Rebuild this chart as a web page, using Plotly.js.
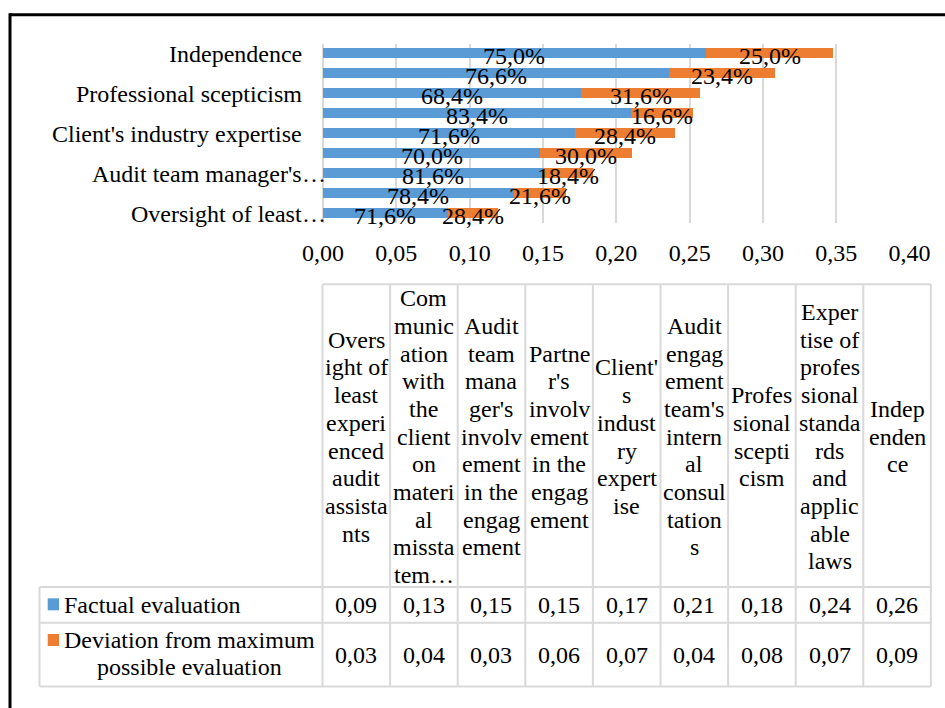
<!DOCTYPE html>
<html>
<head>
<meta charset="utf-8">
<script src="https://cdn.plot.ly/plotly-3.0.1.min.js"></script>
<style>html,body{margin:0;padding:0;background:#fff;}#chart{width:945px;height:708px;}</style>
</head>
<body>
<div id="chart"></div>
<script>
// ---- data (bottom to top of the bar chart = left to right of the table) ----
const categories = [
  "Oversight of least experienced audit assistants",
  "Communication with the client on material misstatements",
  "Audit team manager's involvement in the engagement",
  "Partner's involvement in the engagement",
  "Client's industry expertise",
  "Audit engagement team's internal consultations",
  "Professional scepticism",
  "Expertise of professional standards and applicable laws",
  "Independence"
];
const axisLabels = ["Oversight of least…", "", "Audit team manager's…", "", "Client's industry expertise", "", "Professional scepticism", "", "Independence"];
const factual   = [0.085, 0.130, 0.150, 0.148, 0.172, 0.210, 0.176, 0.236, 0.261];
const deviation = [0.034, 0.036, 0.034, 0.063, 0.068, 0.042, 0.081, 0.072, 0.087];
const factualPct   = ["71,6%", "78,4%", "81,6%", "70,0%", "71,6%", "83,4%", "68,4%", "76,6%", "75,0%"];
const deviationPct = ["28,4%", "21,6%", "18,4%", "30,0%", "28,4%", "16,6%", "31,6%", "23,4%", "25,0%"];
const seriesNames = ["Factual evaluation", "Deviation from maximum possible evaluation"];
const legendLines = [["Factual evaluation"], ["Deviation from maximum", "possible evaluation"]];
const tableHeaders = [
  ["Overs", "ight of", "least", "experi", "enced", "audit", "assista", "nts"],
  ["Com", "munic", "ation", "with", "the", "client", "on", "materi", "al", "missta", "tem…"],
  ["Audit", "team", "mana", "ger's", "involv", "ement", "in the", "engag", "ement"],
  ["Partne", "r's", "involv", "ement", "in the", "engag", "ement"],
  ["Client'", "s", "indust", "ry", "expert", "ise"],
  ["Audit", "engag", "ement", "team's", "intern", "al", "consul", "tation", "s"],
  ["Profes", "sional", "scepti", "cism"],
  ["Exper", "tise of", "profes", "sional", "standa", "rds", "and", "applic", "able", "laws"],
  ["Indep", "enden", "ce"]
];
const xTickVals = [0, 0.05, 0.10, 0.15, 0.20, 0.25, 0.30, 0.35, 0.40];

// ---- styling ----
const W = 945, H = 708;
const FONT = 'Liberation Serif, Times New Roman, Times, serif';
const BLUE = '#5B9BD5', ORANGE = '#ED7D31', GRID = '#D9D9D9';
const px = x => x / W;
const py = y => 1 - y / H;
const fmt = v => (Math.round(v * 100) / 100).toFixed(2).replace('.', ',');

const traces = [
  {type: 'bar', orientation: 'h', name: seriesNames[0], y: categories, x: factual,
   marker: {color: BLUE}, hoverinfo: 'x+y', showlegend: false},
  {type: 'bar', orientation: 'h', name: seriesNames[1], y: categories, x: deviation,
   marker: {color: ORANGE}, hoverinfo: 'x+y', showlegend: false}
];

const annotations = [];
const shapes = [];
const tfont = {family: FONT, size: 24, color: '#000'};

// category axis labels (every second category; a truncation ellipsis hangs past the label edge)
const labelEdge = 304;
categories.forEach((c, i) => {
  const lab = axisLabels[i];
  if (!lab) return;
  const cut = lab.endsWith('…');
  annotations.push({xref: 'paper', yref: 'y', x: px(labelEdge), y: c, text: cut ? lab.slice(0, -1) : lab,
    showarrow: false, xanchor: 'right', yanchor: 'middle', yshift: -1, font: tfont});
  if (cut) annotations.push({xref: 'paper', yref: 'y', x: px(labelEdge - 4), y: c, text: '…',
    showarrow: false, xanchor: 'left', yanchor: 'middle', yshift: -1, font: tfont});
});

// bar data labels (centered in each segment)
categories.forEach((c, i) => {
  annotations.push({xref: 'x', yref: 'y', x: factual[i] / 2, y: c, text: factualPct[i],
    showarrow: false, yshift: -3, font: tfont});
  annotations.push({xref: 'x', yref: 'y', x: factual[i] + deviation[i] / 2, y: c, text: deviationPct[i],
    showarrow: false, yshift: -3, font: tfont});
});

// ---- data table ----
const colL = 322.5, colW = 67.6, nCol = categories.length;
const colR = colL + nCol * colW;
const hdrTop = 284.3, hdrBot = 587, row1Bot = 622.7, row2Bot = 686.5, legL = 39.5;
const line = (x0, y0, x1, y1, color, width) => shapes.push({type: 'line', xref: 'paper', yref: 'paper',
  x0: px(x0), y0: py(y0), x1: px(x1), y1: py(y1), line: {color: color, width: width}});

line(colL, hdrTop, colR, hdrTop, GRID, 2);
for (let i = 0; i <= nCol; i++) line(colL + i * colW, hdrTop, colL + i * colW, row2Bot, GRID, 2);
line(legL, hdrBot, legL, row2Bot, GRID, 2);
[hdrBot, row1Bot, row2Bot].forEach(y => line(legL, y, colR, y, GRID, 2));

const LH = 27.7;
// header cells
tableHeaders.forEach((lines, j) => {
  const cx = colL + (j + 0.5) * colW;
  const cy = (hdrTop + hdrBot) / 2 + 1;
  lines.forEach((t, k) => {
    annotations.push({xref: 'paper', yref: 'paper', x: px(cx), y: py(cy + (k - (lines.length - 1) / 2) * LH),
      text: t, showarrow: false, xanchor: 'center', yanchor: 'middle', font: tfont});
  });
});
// value cells
const rowsY = [(hdrBot + row1Bot) / 2, (row1Bot + row2Bot) / 2];
[factual, deviation].forEach((arr, r) => {
  arr.forEach((v, j) => {
    annotations.push({xref: 'paper', yref: 'paper', x: px(colL + (j + 0.5) * colW), y: py(rowsY[r]),
      text: fmt(v), showarrow: false, xanchor: 'center', yanchor: 'middle', font: tfont});
  });
});
// legend keys + row labels
const keyColors = [BLUE, ORANGE];
const keyY = [604.3, 640];
keyColors.forEach((col, r) => {
  shapes.push({type: 'rect', xref: 'paper', yref: 'paper', x0: px(47.7), x1: px(59), y0: py(keyY[r] - 6), y1: py(keyY[r] + 6),
    fillcolor: col, line: {width: 0}});
});
annotations.push({xref: 'paper', yref: 'paper', x: px(62), y: py(rowsY[0]), text: legendLines[0][0],
  showarrow: false, xanchor: 'left', yanchor: 'middle', font: tfont});
legendLines[1].forEach((t, k) => {
  annotations.push({xref: 'paper', yref: 'paper', x: px(189.5), y: py(640 + k * 27), text: t,
    showarrow: false, xanchor: 'center', yanchor: 'middle', font: tfont});
});

// outer frame (extends past the right and bottom edges)
line(10, 14.7, W + 20, 14.7, '#000', 3);
line(10, 13.2, 10, H + 20, '#000', 3);

const layout = {
  width: W, height: H,
  margin: {l: 0, r: 0, t: 0, b: 0},
  paper_bgcolor: '#fff', plot_bgcolor: '#fff',
  separators: ', ',
  barmode: 'stack', bargap: 0.5,
  showlegend: false,
  font: {family: FONT, size: 24, color: '#000'},
  xaxis: {
    domain: [px(323), px(909.6)], range: [0, 0.4], tickvals: xTickVals, tickformat: '.2f',
    showgrid: true, gridcolor: GRID, gridwidth: 2,
    zeroline: true, zerolinecolor: GRID, zerolinewidth: 2, showline: false,
    ticks: 'outside', ticklen: 8, tickcolor: 'rgba(0,0,0,0)',
    tickfont: {family: FONT, size: 24, color: '#000'}, automargin: false, fixedrange: true
  },
  yaxis: {
    domain: [py(223), py(43.5)], type: 'category', categoryorder: 'array', categoryarray: categories,
    range: [-0.5, categories.length - 0.5],
    showticklabels: false,
    showgrid: false, zeroline: false, showline: false, ticks: '',
    automargin: false, fixedrange: true
  },
  annotations: annotations,
  shapes: shapes
};

Plotly.newPlot('chart', traces, layout, {staticPlot: true, displayModeBar: false});
</script>
</body>
</html>
